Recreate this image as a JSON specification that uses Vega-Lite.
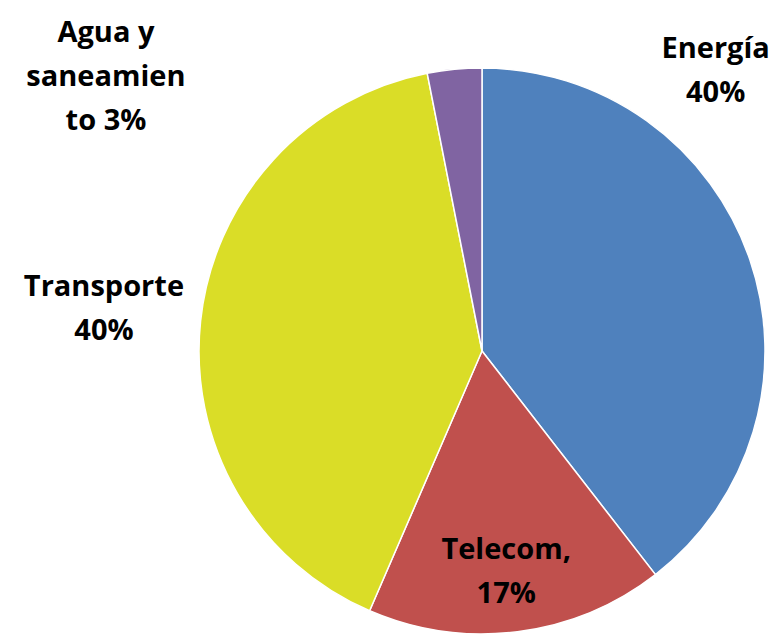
{
  "$schema": "https://vega.github.io/schema/vega-lite/v6.json",
  "width": 566,
  "height": 566,
  "autosize": "none",
  "padding": {"left": 199, "top": 68, "right": 11, "bottom": 0},
  "background": "white",
  "data": {
    "values": [
      {"categoria": "Energía", "valor": 39.5, "orden": 1, "etiqueta": "Energía\n40%"},
      {"categoria": "Telecom", "valor": 17.0, "orden": 2, "etiqueta": "Telecom,\n17%"},
      {"categoria": "Transporte", "valor": 40.4, "orden": 3, "etiqueta": "Transporte\n40%"},
      {"categoria": "Agua y saneamiento", "valor": 3.1, "orden": 4, "etiqueta": "Agua y\nsaneamien\nto 3%"}
    ]
  },
  "encoding": {
    "theta": {"field": "valor", "type": "quantitative", "stack": true},
    "order": {"field": "orden", "type": "quantitative"}
  },
  "layer": [
    {
      "mark": {"type": "arc", "stroke": "white", "strokeWidth": 1.5},
      "encoding": {
        "color": {
          "field": "categoria",
          "type": "nominal",
          "scale": {
            "domain": ["Energía", "Telecom", "Transporte", "Agua y saneamiento"],
            "range": ["#4F81BD", "#C0504D", "#DADD27", "#8064A2"]
          },
          "legend": null
        }
      }
    },
    {
      "mark": {
        "type": "text",
        "font": "Open Sans",
        "fontWeight": "bold",
        "fontSize": 29,
        "lineBreak": "\n",
        "lineHeight": 44,
        "align": "center",
        "baseline": "alphabetic",
        "color": "black",
        "radius": {"expr": "datum.orden == 2 ? 225 : 340"},
        "dx": {"expr": "datum.orden == 1 ? -88 : datum.orden == 2 ? -4 : datum.orden == 3 ? -40 : -343"},
        "dy": {"expr": "datum.orden == 1 ? -183 : datum.orden == 2 ? -15 : datum.orden == 3 ? -19 : 29"}
      },
      "encoding": {
        "text": {"field": "etiqueta", "type": "nominal"}
      }
    }
  ]
}
